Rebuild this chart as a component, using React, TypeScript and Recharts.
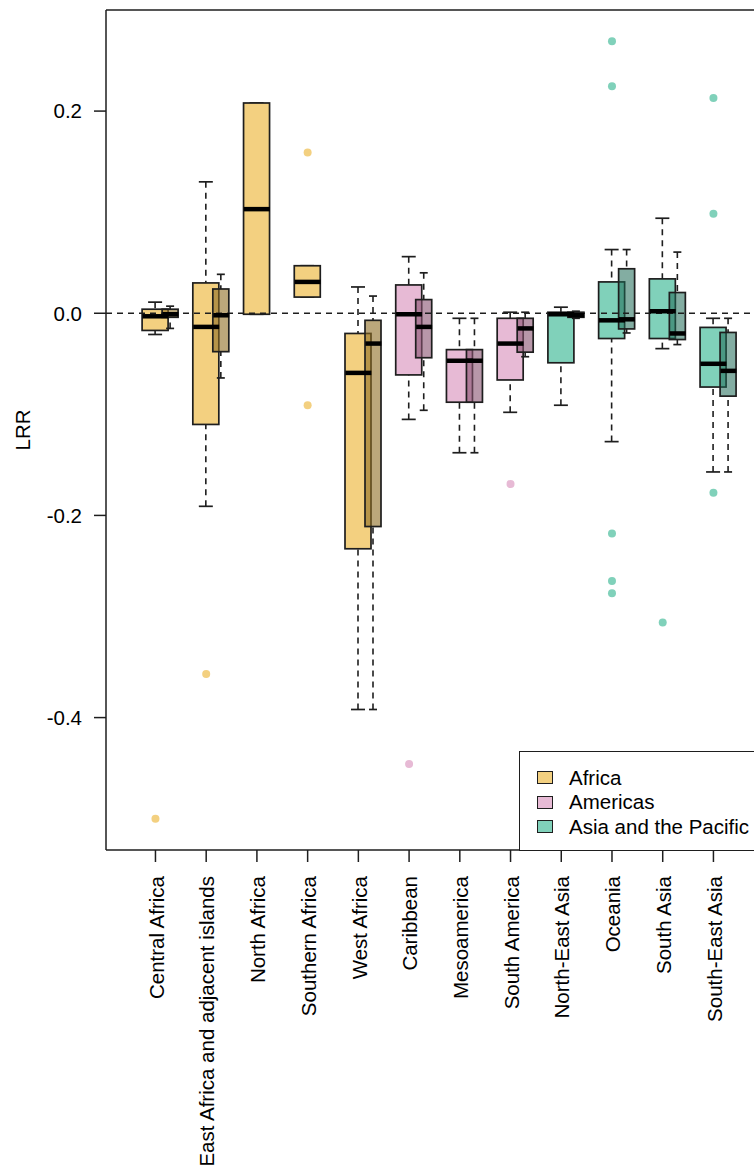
import React from 'react';
import { ComposedChart, Bar, Line, XAxis, YAxis, ReferenceLine, Legend, Cell } from 'recharts';

// ---------- data ----------
const regions = [
  'Central Africa',
  'East Africa and adjacent islands',
  'North Africa',
  'Southern Africa',
  'West Africa',
  'Caribbean',
  'Mesoamerica',
  'South America',
  'North-East Asia',
  'Oceania',
  'South Asia',
  'South-East Asia',
];
const regionGroups = [
  'Africa', 'Africa', 'Africa', 'Africa', 'Africa',
  'Americas', 'Americas', 'Americas',
  'Asia and the Pacific', 'Asia and the Pacific', 'Asia and the Pacific', 'Asia and the Pacific',
];
const groupNames = ['Africa', 'Americas', 'Asia and the Pacific'];

// primary boxes (lower whisker, Q1, median, Q3, upper whisker)
const primaryLow = [-0.021, -0.191, -0.001, 0.016, -0.392, -0.105, -0.138, -0.098, -0.091, -0.127, -0.035, -0.157];
const primaryQ1 = [-0.017, -0.110, -0.001, 0.016, -0.233, -0.061, -0.088, -0.066, -0.049, -0.025, -0.025, -0.073];
const primaryMedian = [-0.003, -0.0135, 0.103, 0.031, -0.059, -0.001, -0.047, -0.030, -0.001, -0.007, 0.002, -0.050];
const primaryQ3 = [0.004, 0.030, 0.208, 0.047, -0.020, 0.028, -0.036, -0.005, 0.001, 0.031, 0.034, -0.014];
const primaryHigh = [0.011, 0.130, 0.208, 0.047, 0.026, 0.056, -0.005, 0.001, 0.006, 0.063, 0.094, -0.005];

// secondary (overlaid, darker) boxes
const secondaryLow = [-0.015, -0.064, null, null, -0.392, -0.096, -0.138, -0.043, -0.005, -0.0195, -0.031, -0.157];
const secondaryQ1 = [-0.004, -0.038, null, null, -0.211, -0.044, -0.088, -0.0385, -0.004, -0.0155, -0.026, -0.082];
const secondaryMedian = [-0.001, -0.002, null, null, -0.030, -0.0135, -0.047, -0.015, -0.002, -0.006, -0.020, -0.057];
const secondaryQ3 = [0.004, 0.024, null, null, -0.007, 0.0135, -0.036, -0.005, 0.001, 0.044, 0.0205, -0.019];
const secondaryHigh = [0.007, 0.0385, null, null, 0.017, 0.040, -0.005, 0.001, 0.002, 0.063, 0.0605, -0.005];

// outlying points
const outliers: number[][] = [
  [-0.500],
  [-0.357],
  [],
  [0.159, -0.091],
  [],
  [-0.446],
  [],
  [-0.169],
  [],
  [0.269, 0.2245, -0.218, -0.265, -0.277],
  [-0.306],
  [0.213, 0.0985, -0.1775],
];

const yTicks = [-0.4, -0.2, 0, 0.2];
const yDomain = [-0.531, 0.3];

// ---------- styles ----------
const FONT = '"Liberation Sans", Arial, sans-serif';
const FS = 20.5;
const INK = '#1e1e1e';
const groupFill: Record<string, string> = {
  Africa: '#F3D080',
  Americas: '#E7BAD5',
  'Asia and the Pacific': '#80D1BA',
};
const groupOverlay: Record<string, string> = {
  Africa: 'rgba(142,108,35,0.6)',
  Americas: 'rgba(137,82,112,0.6)',
  'Asia and the Pacific': 'rgba(30,105,85,0.55)',
};
const PAD_L = 24.1;
const PAD_R = 61.2;
const SHIFT = 15;
const BOX_W = 26;
const SBOX_W = 16;

const maxOut = Math.max(...outliers.map((o) => o.length));
const outKeys = Array.from({ length: maxOut }, (_, k) => `o${k}`);

const data = regions.map((region, i) => {
  const row: any = {
    region,
    group: regionGroups[i],
    pBox: [primaryQ1[i], primaryQ3[i]],
    pUp: [primaryQ3[i], primaryHigh[i]],
    pLow: [primaryLow[i], primaryQ1[i]],
    pMed: primaryMedian[i],
    sBox: secondaryQ1[i] == null ? null : [secondaryQ1[i], secondaryQ3[i]],
    sUp: secondaryQ3[i] == null ? null : [secondaryQ3[i], secondaryHigh[i]],
    sLow: secondaryLow[i] == null ? null : [secondaryLow[i], secondaryQ1[i]],
    sMed: secondaryMedian[i],
  };
  outliers[i].forEach((v, k) => {
    row[`o${k}`] = v;
  });
  return row;
});

const ok = (...v: any[]) => v.every((n) => typeof n === 'number' && Number.isFinite(n));

// ---------- shapes ----------
const BoxShape = (props: any) => {
  const { x, y, width, height, fill } = props;
  if (!ok(x, y, width, height)) return <g />;
  return (
    <rect x={x} y={y} width={width} height={Math.max(height, 0.5)} fill={fill} stroke={INK} strokeWidth={1.7} />
  );
};

const UpperWhisker = (props: any) => {
  const { x, y, width, height } = props;
  if (!ok(x, y, width, height)) return <g />;
  const cx = x + width / 2;
  return (
    <g>
      <line x1={cx} x2={cx} y1={y} y2={y + height} stroke={INK} strokeWidth={1.6} strokeDasharray="6 5" />
      <line x1={x} x2={x + width} y1={y} y2={y} stroke={INK} strokeWidth={1.7} />
    </g>
  );
};

const LowerWhisker = (props: any) => {
  const { x, y, width, height } = props;
  if (!ok(x, y, width, height)) return <g />;
  const cx = x + width / 2;
  return (
    <g>
      <line x1={cx} x2={cx} y1={y + height} y2={y} stroke={INK} strokeWidth={1.6} strokeDasharray="6 5" />
      <line x1={x} x2={x + width} y1={y + height} y2={y + height} stroke={INK} strokeWidth={1.7} />
    </g>
  );
};

const medianDot = (w: number) => (props: any) => {
  const { cx, cy, index } = props;
  if (!ok(cx, cy)) return <g key={`m-${w}-${index}`} />;
  return (
    <line key={`m-${w}-${index}`} x1={cx - w / 2} x2={cx + w / 2} y1={cy} y2={cy} stroke="#000" strokeWidth={4.5} />
  );
};

const outlierDot = (k: number) => (props: any) => {
  const { cx, cy, index } = props;
  if (!ok(cx, cy)) return <g key={`o-${k}-${index}`} />;
  return <circle key={`o-${k}-${index}`} cx={cx} cy={cy} r={4} fill={groupFill[regionGroups[index]]} stroke="none" />;
};

const CategoryTick = (props: any) => {
  const { x, y, payload } = props;
  return (
    <text
      x={x}
      y={y}
      transform={`rotate(-90, ${x}, ${y})`}
      textAnchor="end"
      dy="0.4em"
      fontSize={FS}
      fontFamily={FONT}
      fill="#000"
    >
      {payload.value}
    </text>
  );
};

const YTitle = (props: any) => {
  const vb = props.viewBox || {};
  const cy = (vb.y ?? 10) + (vb.height ?? 840) / 2;
  const x = 30;
  return (
    <text x={x} y={cy} transform={`rotate(-90, ${x}, ${cy})`} textAnchor="middle" fontSize={FS} fontFamily={FONT} fill="#000">
      LRR
    </text>
  );
};

const LegendBox = () => (
  <div
    style={{
      position: 'relative',
      width: 300,
      height: 100,
      border: `1.5px solid ${INK}`,
      background: '#fff',
      boxSizing: 'border-box',
      fontFamily: FONT,
      fontSize: FS,
      color: '#000',
    }}
  >
    {groupNames.map((g, i) => (
      <div
        key={g}
        style={{
          position: 'absolute',
          left: 0,
          top: 13.5 + i * 24.5,
          height: 24,
          display: 'flex',
          alignItems: 'center',
          whiteSpace: 'nowrap',
        }}
      >
        <span
          style={{
            display: 'inline-block',
            width: 16,
            height: 13,
            marginLeft: 17,
            background: groupFill[g],
            border: `1.3px solid ${INK}`,
            boxSizing: 'border-box',
          }}
        />
        <span style={{ marginLeft: 16, lineHeight: '24px' }}>{g}</span>
      </div>
    ))}
  </div>
);

const mainPad = { left: PAD_L, right: PAD_R };
const shiftPad = { left: PAD_L + SHIFT, right: PAD_R - SHIFT };

export default function App() {
  return (
    <div style={{ position: 'absolute', left: 0, top: 0, width: 754, height: 1171, overflow: 'hidden', background: '#fff' }}>
      <ComposedChart
        width={800}
        height={1171}
        data={data}
        margin={{ top: 10, right: 0, bottom: 0, left: 0 }}
        style={{ fontFamily: FONT }}
      >
        <XAxis
          xAxisId="x"
          dataKey="region"
          height={321}
          interval={0}
          padding={mainPad}
          tickSize={12}
          tickMargin={14}
          tick={<CategoryTick />}
          axisLine={{ stroke: INK, strokeWidth: 1.5 }}
          tickLine={{ stroke: INK, strokeWidth: 1.5 }}
        />
        <XAxis xAxisId="pu" dataKey="region" hide height={0} padding={mainPad} />
        <XAxis xAxisId="pl" dataKey="region" hide height={0} padding={mainPad} />
        <XAxis xAxisId="sb" dataKey="region" hide height={0} padding={shiftPad} />
        <XAxis xAxisId="su" dataKey="region" hide height={0} padding={shiftPad} />
        <XAxis xAxisId="sl" dataKey="region" hide height={0} padding={shiftPad} />
        <YAxis
          domain={yDomain}
          ticks={yTicks}
          allowDataOverflow
          width={106}
          tickSize={12}
          tickMargin={12}
          tickFormatter={(v: number) => v.toFixed(1)}
          tick={{ fontSize: FS, fill: '#000', fontFamily: FONT }}
          axisLine={{ stroke: INK, strokeWidth: 1.5 }}
          tickLine={{ stroke: INK, strokeWidth: 1.5 }}
          label={<YTitle />}
        />

        <ReferenceLine xAxisId="x" y={yDomain[1]} stroke={INK} strokeWidth={1.5} />

        <Bar xAxisId="pu" dataKey="pUp" barSize={14} shape={<UpperWhisker />} isAnimationActive={false} legendType="none" />
        <Bar xAxisId="pl" dataKey="pLow" barSize={14} shape={<LowerWhisker />} isAnimationActive={false} legendType="none" />
        <Bar xAxisId="x" dataKey="pBox" barSize={BOX_W} shape={<BoxShape />} isAnimationActive={false} legendType="none">
          {data.map((d, i) => (
            <Cell key={`pc-${i}`} fill={groupFill[d.group]} />
          ))}
        </Bar>
        <Line
          xAxisId="x"
          dataKey="pMed"
          stroke="none"
          strokeWidth={0}
          dot={medianDot(BOX_W)}
          activeDot={false}
          isAnimationActive={false}
          legendType="none"
        />

        <Bar xAxisId="su" dataKey="sUp" barSize={8} shape={<UpperWhisker />} isAnimationActive={false} legendType="none" />
        <Bar xAxisId="sl" dataKey="sLow" barSize={8} shape={<LowerWhisker />} isAnimationActive={false} legendType="none" />
        <Bar xAxisId="sb" dataKey="sBox" barSize={SBOX_W} shape={<BoxShape />} isAnimationActive={false} legendType="none">
          {data.map((d, i) => (
            <Cell key={`sc-${i}`} fill={groupOverlay[d.group]} />
          ))}
        </Bar>
        <Line
          xAxisId="sb"
          dataKey="sMed"
          stroke="none"
          strokeWidth={0}
          dot={medianDot(SBOX_W)}
          activeDot={false}
          isAnimationActive={false}
          legendType="none"
        />

        <ReferenceLine xAxisId="x" y={0} stroke={INK} strokeWidth={1.5} strokeDasharray="6 5" />

        {outKeys.map((k, j) => (
          <Line
            key={k}
            xAxisId="x"
            dataKey={k}
            stroke="none"
            strokeWidth={0}
            dot={outlierDot(j)}
            activeDot={false}
            isAnimationActive={false}
            legendType="none"
          />
        ))}

        <Legend
          layout="horizontal"
          verticalAlign="middle"
          align="center"
          content={<LegendBox />}
          wrapperStyle={{ left: 519, top: 751, width: 300, height: 100, bottom: 'auto', right: 'auto' }}
        />
      </ComposedChart>
    </div>
  );
}
